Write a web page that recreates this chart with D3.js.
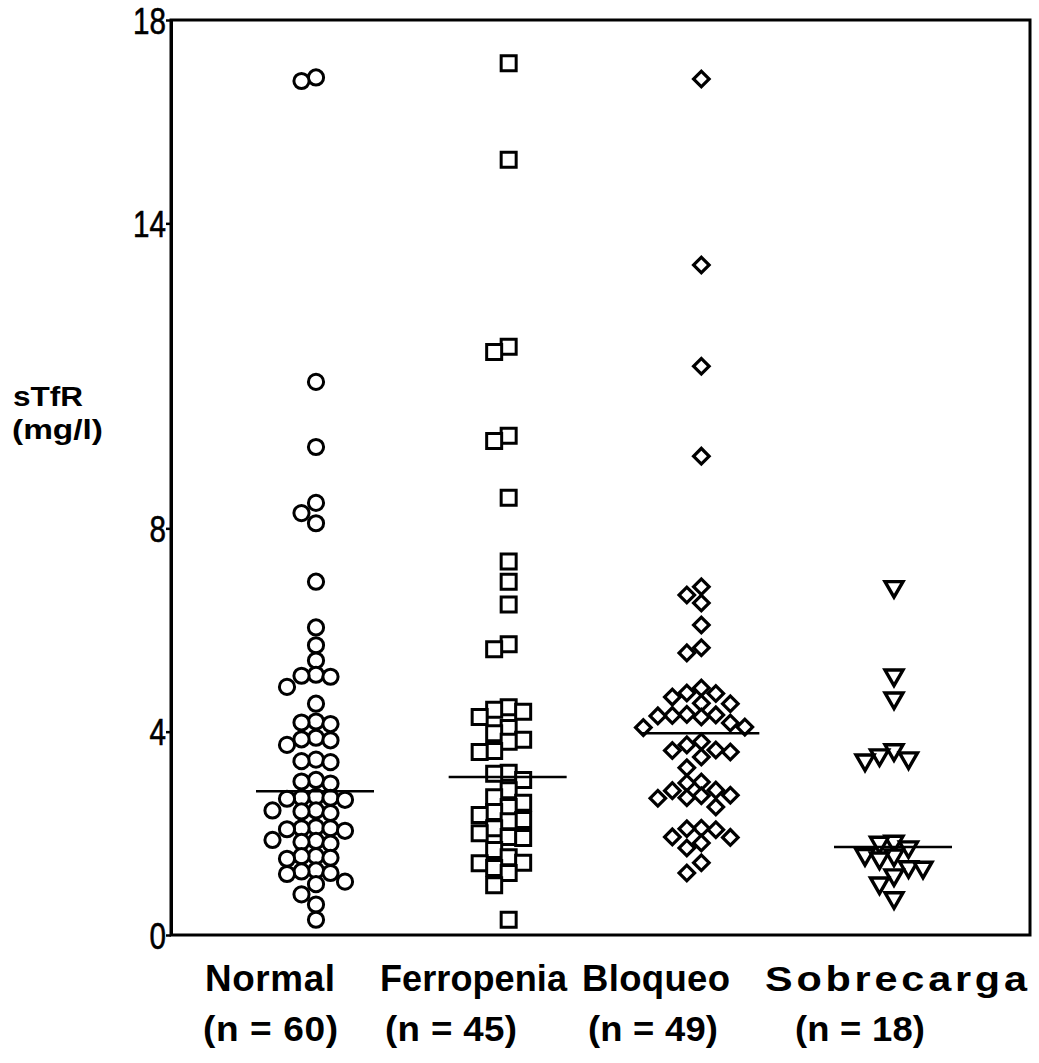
<!DOCTYPE html>
<html><head><meta charset="utf-8">
<script src="https://cdn.jsdelivr.net/npm/d3@7"></script>
<style>
html,body{margin:0;padding:0;background:#fff;}
svg{display:block;}
</style></head>
<body>
<script>
// ---------- DATA ----------
const categories = ["Normal", "Ferropenia", "Bloqueo", "Sobrecarga"];
const nLabels = ["(n = 60)", "(n = 45)", "(n = 49)", "(n = 18)"];
const yTicks = [0, 4, 8, 14, 18];
const normal = [16.87, 16.8, 10.88, 9.6, 8.5, 8.3, 8.1, 6.95, 6.05, 5.7, 5.4, 5.12, 5.1, 5.08, 4.88, 4.55,
  4.2, 4.18, 4.15, 3.88, 3.85, 3.83, 3.74, 3.45, 3.42, 3.4, 3.05, 3.02, 2.98,
  2.72, 2.7, 2.7, 2.68, 2.66, 2.45, 2.45, 2.43, 2.4, 2.12, 2.1, 2.1, 2.08, 2.05,
  1.87, 1.85, 1.83, 1.8, 1.55, 1.55, 1.52, 1.5, 1.27, 1.25, 1.22, 1.2, 1.05, 1.0, 0.8, 0.6, 0.3];
const ferropenia = [17.15, 15.25, 11.57, 11.47, 9.82, 9.72, 8.6, 7.35, 6.95, 6.5, 5.72, 5.62,
  4.48, 4.43, 4.39, 4.29, 4.07, 3.97, 3.84, 3.8, 3.62, 3.6,
  3.19, 3.17, 3.05, 2.85, 2.71, 2.6, 2.52, 2.42, 2.36, 2.26, 2.24, 2.1, 2.0, 1.93, 1.91,
  1.67, 1.53, 1.42, 1.41, 1.32, 1.22, 0.98, 0.3];
const bloqueo = [16.84, 13.18, 11.19, 9.42, 6.85, 6.69, 6.53, 6.1, 5.65, 5.55,
  4.86, 4.76, 4.75, 4.68, 4.56, 4.55, 4.34, 4.33, 4.32, 4.31, 4.29, 4.17, 4.09, 4.08,
  3.8, 3.74, 3.64, 3.63, 3.6, 3.5, 3.29, 3.01, 2.99, 2.85, 2.84, 2.75, 2.74, 2.7, 2.69,
  2.52, 2.1, 2.09, 2.07, 1.93, 1.92, 1.81, 1.71, 1.42, 1.22];
const sobrecarga = [6.85, 5.11, 4.66, 3.64, 3.54, 3.48, 3.44, 1.84, 1.82, 1.73, 1.58, 1.57, 1.51,
  1.34, 1.33, 1.18, 1.02, 0.73];
const medians = [2.83, 3.11, 3.97, 1.73];

// ---------- LAYOUT ----------
const W = 1039, H = 1063;
const plot = {left: 171, right: 1030, top: 20, bottom: 935};
const seriesList = [normal, ferropenia, bloqueo, sobrecarga];
const FONT = "Liberation Sans, Arial, Helvetica, sans-serif";

const svg = d3.select("body").append("svg").attr("width", W).attr("height", H);

const y = d3.scaleLinear().domain([0, 18]).range([plot.bottom, plot.top]);
const x = d3.scalePoint().domain(categories).range([316, 894]);

// frame
svg.append("rect")
  .attr("x", plot.left).attr("y", plot.top)
  .attr("width", plot.right - plot.left).attr("height", plot.bottom - plot.top)
  .attr("fill", "none").attr("stroke", "#000").attr("stroke-width", 3);

// y axis
const yAxis = svg.append("g").attr("transform", `translate(${plot.left},0)`)
  .call(d3.axisLeft(y).tickValues(yTicks).tickSize(5).tickSizeOuter(0).tickFormat(d3.format("d")));
yAxis.select(".domain").attr("stroke-width", 3);
yAxis.selectAll(".tick line").attr("stroke-width", 2.5);
yAxis.selectAll(".tick text")
  .attr("x", 0).attr("dy", "0.36em")
  .attr("transform", "translate(-5,0) scale(0.8,1)")
  .attr("font-family", FONT)
  .attr("font-size", 37).attr("fill", "#000")
  .attr("stroke", "#000").attr("stroke-width", 0.6);

// y title
const titleG = svg.append("g").attr("font-family", FONT)
  .attr("font-weight", "bold").attr("font-size", 27).attr("fill", "#000");
titleG.append("text").attr("x", 13).attr("y", 406).attr("textLength", 70).attr("lengthAdjust", "spacingAndGlyphs").text("sTfR");
titleG.append("text").attr("x", 12).attr("y", 439).attr("textLength", 91).attr("lengthAdjust", "spacingAndGlyphs").text("(mg/l)");

// beeswarm-like dodge (computed from values)
const colStep = 14.5, minGap = 13.5;
function dodge(values) {
  const idx = values.map((v, i) => i).sort((a, b) => values[b] - values[a]);
  const cols = new Map();
  const out = new Array(values.length);
  const order = [0, -1, 1, -2, 2, -3, 3, -4, 4, -5, 5];
  idx.forEach(i => {
    const py = y(values[i]);
    for (const k of order) {
      const arr = cols.get(k) || [];
      if (arr.every(q => Math.abs(q - py) >= minGap)) {
        arr.push(py); cols.set(k, arr); out[i] = k; break;
      }
    }
  });
  return out;
}

const symbols = [
  {type: d3.symbolCircle, size: Math.PI * 7.6 * 7.6, rot: 0, sw: 3},
  {type: d3.symbolSquare, size: 15 * 15, rot: 0, sw: 3},
  {type: d3.symbolSquare, size: 11 * 11, rot: 45, sw: 3.2},
  {type: d3.symbolTriangle, size: 140, rot: 180, sw: 3.4}
];

seriesList.forEach((vals, ci) => {
  const cx = x(categories[ci]);
  const offs = dodge(vals);
  const s = symbols[ci];
  const path = d3.symbol().type(s.type).size(s.size)();
  svg.append("g").selectAll("path").data(vals).join("path")
    .attr("d", path)
    .attr("transform", (d, i) => `translate(${cx + offs[i] * colStep},${y(d)}) rotate(${s.rot})`)
    .attr("fill", "#fff").attr("stroke", "#000").attr("stroke-width", s.sw);
  // median line
  svg.append("line")
    .attr("x1", cx - 60).attr("x2", cx + 58)
    .attr("y1", y(medians[ci])).attr("y2", y(medians[ci]))
    .attr("stroke", "#000").attr("stroke-width", 2.5);
});

// category labels: glyphs widened partly, remaining width filled by letter spacing
const lab1 = [[205, 130], [380, 187], [582, 148], [765, 262]];
const lab2 = [[203, 135], [385, 132], [588, 130], [795, 130]];
function label(str, left, width, base) {
  const g = svg.append("g").attr("transform", `translate(${left},${base})`);
  const t = g.append("text").attr("font-family", FONT).attr("font-weight", "bold")
    .attr("font-size", 36).attr("fill", "#000").text(str);
  const nat = t.node().getComputedTextLength();
  const s = Math.max(1, Math.sqrt(width / nat));
  g.attr("transform", `translate(${left},${base}) scale(${s},1)`);
  t.attr("textLength", width / s).attr("lengthAdjust", "spacing");
}
categories.forEach((c, i) => {
  label(c, lab1[i][0], lab1[i][1], 991);
  label(nLabels[i], lab2[i][0], lab2[i][1], 1041);
});
</script>
</body></html>
